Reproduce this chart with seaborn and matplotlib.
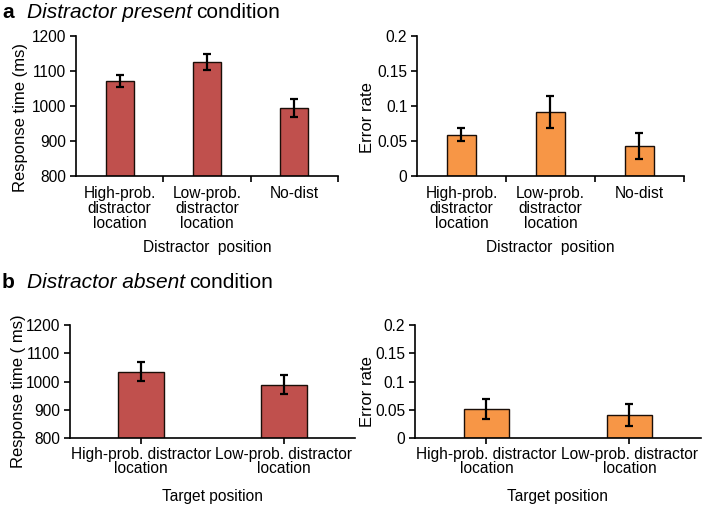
import numpy as np
import pandas as pd
import matplotlib
matplotlib.use("Agg")
import matplotlib.pyplot as plt
import seaborn as sns

# ---- data ----
a_categories = ["High-prob.\ndistractor\nlocation", "Low-prob.\ndistractor\nlocation", "No-dist"]
a_rt = [1071, 1126, 994]
a_rt_err = [17, 22, 25]
a_err_rate = [0.059, 0.092, 0.043]
a_err_rate_err = [0.009, 0.023, 0.019]

b_categories = ["High-prob. distractor\nlocation", "Low-prob. distractor\nlocation"]
b_rt = [1035, 989]
b_rt_err = [33, 33]
b_err_rate = [0.052, 0.041]
b_err_rate_err = [0.018, 0.019]

RED = "#C0504D"
ORANGE = "#F79646"

sns.set_style("white")
plt.rcParams['font.family'] = ['Liberation Sans', 'DejaVu Sans']
plt.rcParams['axes.linewidth'] = 1.2
for k in ["text.color", "axes.labelcolor", "xtick.color", "ytick.color", "axes.edgecolor"]:
    plt.rcParams[k] = "black"

FS = 11.2
LFS = 12

fig = plt.figure(figsize=(7.08, 5.05), dpi=100)

def panel(rect, cats, vals, errs, color, ylim, yticks, yticklabels, ylabel, xlabel,
          boundary_ticks, linesp, xlpad, ylx):
    ax = fig.add_axes(rect)
    df = pd.DataFrame({"cat": cats, "val": vals})
    sns.barplot(data=df, x="cat", y="val", color=color, width=0.32,
                edgecolor="#1a0e08", linewidth=1.0, saturation=1, ax=ax, errorbar=None)
    x = np.arange(len(cats))
    ax.errorbar(x, vals, yerr=errs, fmt="none", ecolor="black", elinewidth=1.6,
                capsize=3, capthick=1.6)
    ax.set_ylim(*ylim)
    ax.set_xlim(-0.5, len(cats) - 0.5)
    ax.set_yticks(yticks)
    ax.set_yticklabels(yticklabels, fontsize=FS)
    ax.set_xticks(x)
    ax.set_xticklabels(cats, fontsize=FS, linespacing=linesp)
    if boundary_ticks:
        ax.tick_params(axis="x", which="major", length=0, pad=7)
        ax.set_xticks(np.arange(len(cats)) + 0.5, minor=True)
        ax.tick_params(axis="x", which="minor", length=4, width=1.2, direction="out", color="black", bottom=True)
    else:
        ax.tick_params(axis="x", which="major", length=4, width=1.2, direction="out", color="black", pad=2, bottom=True)
    ax.tick_params(axis="y", length=4, width=1.2, direction="out", color="black", pad=3, left=True)
    ax.set_ylabel(ylabel, fontsize=LFS)
    ax.yaxis.set_label_coords(ylx, 0.415)
    ax.set_xlabel(xlabel, fontsize=FS, labelpad=xlpad)
    for s in ["top", "right"]:
        ax.spines[s].set_visible(False)
    return ax

panel([0.1073, 0.6515, 0.370, 0.277], a_categories, a_rt, a_rt_err, RED,
      (800, 1200), [800, 900, 1000, 1100, 1200], ["800", "900", "1000", "1100", "1200"],
      "Response time (ms)", "Distractor  position", True, 1.0, 7, -0.184)
panel([0.589, 0.6515, 0.377, 0.277], a_categories, a_err_rate, a_err_rate_err, ORANGE,
      (0, 0.2), [0, 0.05, 0.1, 0.15, 0.2], ["0", "0.05", "0.1", "0.15", "0.2"],
      "Error rate", "Distractor  position", True, 1.0, 7, -0.157)
panel([0.0989, 0.132, 0.4025, 0.2244], b_categories, b_rt, b_rt_err, RED,
      (800, 1200), [800, 900, 1000, 1100, 1200], ["800", "900", "1000", "1100", "1200"],
      "Response time ( ms)", "Target position", False, 0.95, 9.5, -0.154)
panel([0.586, 0.132, 0.404, 0.2244], b_categories, b_err_rate, b_err_rate_err, ORANGE,
      (0, 0.2), [0, 0.05, 0.1, 0.15, 0.2], ["0", "0.05", "0.1", "0.15", "0.2"],
      "Error rate", "Target position", False, 0.95, 9.5, -0.14)

# panel titles
TFS = 15
renderer = fig.canvas.get_renderer()

def title(y_px, letter, italic, rest):
    y = 1 - y_px / 505
    fig.text(2/708, y, letter, fontsize=TFS, fontweight="bold", va="center", ha="left")
    t = fig.text(27/708, y, italic, fontsize=TFS, style="italic", va="center", ha="left")
    bb = t.get_window_extent(renderer=renderer)
    fig.text((bb.x1 + 4) / 708, y, rest, fontsize=TFS, va="center", ha="left")

title(12, "a", "Distractor present", "condition")
title(283, "b", "Distractor absent", "condition")

fig.savefig("out.png", dpi=100)
